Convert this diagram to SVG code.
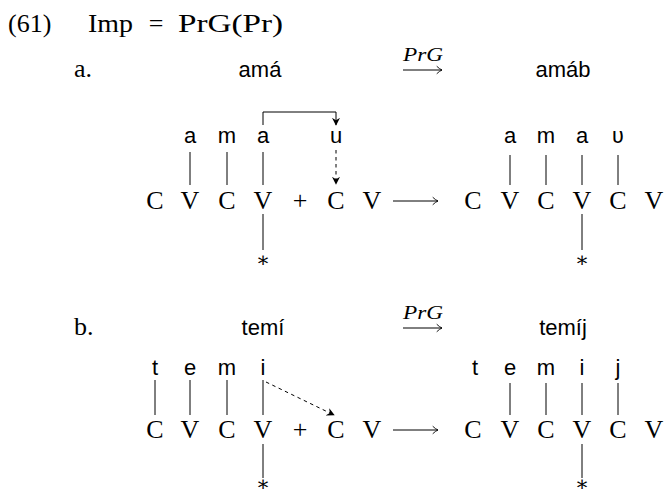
<svg xmlns="http://www.w3.org/2000/svg" width="666" height="497" viewBox="0 0 666 497">
<defs>
<style>
.rm{font-family:"Liberation Serif","DejaVu Serif",serif;font-size:26px;fill:#000}
.ti{font-family:"Liberation Serif","DejaVu Serif",serif;font-size:26px;fill:#000}
.it{font-family:"Liberation Serif","DejaVu Serif",serif;font-size:18px;font-style:italic;fill:#000}
.sf{font-family:"Liberation Sans","DejaVu Sans",sans-serif;font-size:22px;fill:#000}
.ast{font-family:"DejaVu Serif",serif;font-size:21px;fill:#000}
.c{text-anchor:middle}
.ln{stroke:#000;stroke-width:1;fill:none}
.ds{stroke:#000;stroke-width:1;fill:none;stroke-dasharray:3.5 3.5}
.hd{stroke:#000;stroke-width:0.9;fill:none;stroke-linecap:round}
</style>
<marker id="ah" viewBox="0 0 10 10" refX="9" refY="5" markerWidth="8" markerHeight="8" markerUnits="userSpaceOnUse" orient="auto">
<path d="M0,0 L10,5 L0,10 L3,5 Z" fill="#000"/>
</marker>
</defs>

<g id="title">
<text class="ti" x="8" y="32">(61)</text>
<text class="ti" x="88" y="32" textLength="45" lengthAdjust="spacingAndGlyphs">Imp</text>
<text class="ti" x="156" y="32" text-anchor="middle">=</text>
<text class="ti" x="178" y="32" textLength="105" lengthAdjust="spacingAndGlyphs">PrG(Pr)</text>
</g>

<!-- Part a -->
<g id="a-label">
<text class="ti" x="74" y="77">a.</text>
<text class="sf c" x="260" y="77">amá</text>
<text class="it" x="403" y="61" textLength="40" lengthAdjust="spacingAndGlyphs">PrG</text>
<text class="sf c" x="563" y="77">amáb</text>
</g>

<g id="a-left">
<text class="sf c" x="190" y="143">a</text>
<text class="sf c" x="227" y="143">m</text>
<text class="sf c" x="263" y="143">a</text>
<text class="sf c" x="336" y="143">u</text>
<text class="rm c" x="155" y="209">C</text>
<text class="rm c" x="190" y="209">V</text>
<text class="rm c" x="227" y="209">C</text>
<text class="rm c" x="263" y="209">V</text>
<text class="rm c" x="300" y="209">+</text>
<text class="rm c" x="336" y="209">C</text>
<text class="rm c" x="372" y="209">V</text>
<text class="ast c" x="263" y="267">∗</text>
</g>

<g id="a-right">
<text class="sf c" x="510" y="143">a</text>
<text class="sf c" x="546" y="143">m</text>
<text class="sf c" x="582" y="143">a</text>
<text class="sf c" x="618" y="143">ʋ</text>
<text class="rm c" x="473" y="209">C</text>
<text class="rm c" x="510" y="209">V</text>
<text class="rm c" x="546" y="209">C</text>
<text class="rm c" x="582" y="209">V</text>
<text class="rm c" x="618" y="209">C</text>
<text class="rm c" x="654" y="209">V</text>
<text class="ast c" x="582" y="267">∗</text>
</g>

<!-- Part b -->
<g id="b-label">
<text class="ti" x="74" y="335">b.</text>
<text class="sf c" x="263" y="335">temí</text>
<text class="it" x="403" y="319" textLength="40" lengthAdjust="spacingAndGlyphs">PrG</text>
<text class="sf c" x="563" y="335">temíj</text>
</g>

<g id="b-left">
<text class="sf c" x="155" y="375">t</text>
<text class="sf c" x="190" y="375">e</text>
<text class="sf c" x="227" y="375">m</text>
<text class="sf c" x="263" y="375">i</text>
<text class="rm c" x="155" y="438">C</text>
<text class="rm c" x="190" y="438">V</text>
<text class="rm c" x="227" y="438">C</text>
<text class="rm c" x="263" y="438">V</text>
<text class="rm c" x="300" y="438">+</text>
<text class="rm c" x="336" y="438">C</text>
<text class="rm c" x="372" y="438">V</text>
<text class="ast c" x="263" y="491">∗</text>
</g>

<g id="b-right">
<text class="sf c" x="475" y="375">t</text>
<text class="sf c" x="510" y="375">e</text>
<text class="sf c" x="546" y="375">m</text>
<text class="sf c" x="582" y="375">i</text>
<text class="sf c" x="618" y="375">j</text>
<text class="rm c" x="473" y="438">C</text>
<text class="rm c" x="510" y="438">V</text>
<text class="rm c" x="546" y="438">C</text>
<text class="rm c" x="582" y="438">V</text>
<text class="rm c" x="618" y="438">C</text>
<text class="rm c" x="654" y="438">V</text>
<text class="ast c" x="582" y="491">∗</text>
</g>

<g id="connectors">
<!-- PrG arrows -->
<line class="ln" x1="403" y1="70" x2="442" y2="70"/>
<path class="hd" d="M437,66.5 Q439.5,69 442,70 Q439.5,71 437,73.5"/>
<line class="ln" x1="403" y1="328" x2="442" y2="328"/>
<path class="hd" d="M437,324.5 Q439.5,327 442,328 Q439.5,329 437,331.5"/>
<!-- long arrows -->
<line class="ln" x1="393" y1="201" x2="438" y2="201"/>
<path class="hd" d="M433,197.5 Q435.5,200 438,201 Q435.5,202 433,204.5"/>
<line class="ln" x1="393" y1="430" x2="438" y2="430"/>
<path class="hd" d="M433,426.5 Q435.5,429 438,430 Q435.5,431 433,433.5"/>

<!-- part a left association lines -->
<line class="ln" x1="190" y1="152" x2="190" y2="185"/>
<line class="ln" x1="227" y1="152" x2="227" y2="185"/>
<line class="ln" x1="263" y1="152" x2="263" y2="185"/>
<line class="ln" x1="263" y1="214" x2="263" y2="250"/>
<polyline class="ln" points="263,125 263,112 336,112 336,125" marker-end="url(#ah)"/>
<line class="ds" x1="336" y1="150" x2="336" y2="184" marker-end="url(#ah)"/>

<!-- part a right -->
<line class="ln" x1="510" y1="155" x2="510" y2="185"/>
<line class="ln" x1="546" y1="155" x2="546" y2="185"/>
<line class="ln" x1="582" y1="155" x2="582" y2="185"/>
<line class="ln" x1="618" y1="155" x2="618" y2="185"/>
<line class="ln" x1="582" y1="214" x2="582" y2="250"/>

<!-- part b left -->
<line class="ln" x1="155" y1="380" x2="155" y2="415"/>
<line class="ln" x1="190" y1="380" x2="190" y2="415"/>
<line class="ln" x1="227" y1="380" x2="227" y2="415"/>
<line class="ln" x1="263" y1="380" x2="263" y2="415"/>
<line class="ln" x1="263" y1="444" x2="263" y2="478"/>
<line class="ds" x1="266" y1="382" x2="334" y2="415" marker-end="url(#ah)"/>

<!-- part b right -->
<line class="ln" x1="510" y1="383" x2="510" y2="415"/>
<line class="ln" x1="546" y1="383" x2="546" y2="415"/>
<line class="ln" x1="582" y1="383" x2="582" y2="415"/>
<line class="ln" x1="618" y1="383" x2="618" y2="415"/>
<line class="ln" x1="582" y1="444" x2="582" y2="478"/>
</g>
</svg>
